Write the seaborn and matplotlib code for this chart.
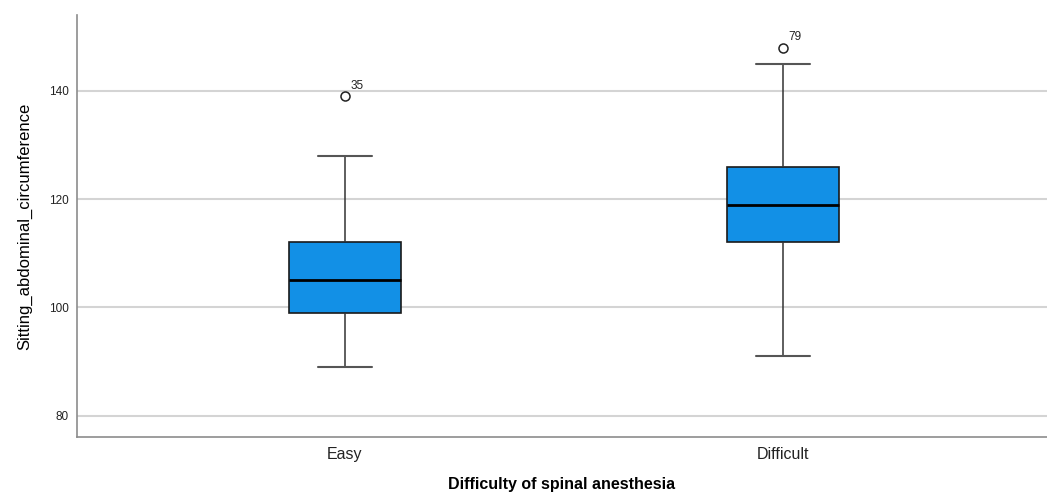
import numpy as np
import pandas as pd
import matplotlib
matplotlib.use("Agg")
import matplotlib.pyplot as plt
import seaborn as sns

# Five-number summaries per group, plus the single outlier and its case id
groups = ["Easy", "Difficult"]
whisker_low = [89, 91]
q1 = [99, 112]
median = [105, 119]
q3 = [112, 126]
whisker_high = [128, 145]
outliers = [139, 148]
outlier_ids = ["35", "79"]

# Build per-group samples whose quartiles (linear interpolation, n=9)
# reproduce the summaries exactly: Q1 at index 2, median at 4, Q3 at 6.
rows = []
for i, g in enumerate(groups):
    vals = [whisker_low[i], q1[i], q1[i], median[i], median[i],
            q3[i], q3[i], whisker_high[i], outliers[i]]
    rows += [(g, v) for v in vals]
df = pd.DataFrame(rows, columns=["Difficulty of spinal anesthesia",
                                 "Sitting_abdominal_circumference"])

sns.set_theme(style="white")
plt.rcParams["font.family"] = ["Liberation Sans", "DejaVu Sans"]

fig = plt.figure(figsize=(10.47, 4.92), dpi=100)
ax = fig.add_axes([0.0735, 0.112, 0.9265, 0.8575])

ax.yaxis.grid(True, color="#d4d4d4", linewidth=1.5, zorder=0)
ax.set_axisbelow(True)

sns.boxplot(
    data=df, x="Difficulty of spinal anesthesia",
    y="Sitting_abdominal_circumference", order=groups,
    color="#1290E6", saturation=1, width=0.256, whis=1.5, ax=ax,
    boxprops=dict(edgecolor="#1a1a1a", linewidth=1.2),
    medianprops=dict(color="black", linewidth=2),
    whiskerprops=dict(color="#333333", linewidth=1.1),
    capprops=dict(color="#555555", linewidth=1.5),
    capwidths=0.123,
    flierprops=dict(marker="o", markersize=6.5, markerfacecolor="white",
                    markeredgecolor="#222222", markeredgewidth=1.1),
)

for i, (val, lab) in enumerate(zip(outliers, outlier_ids)):
    ax.annotate(lab, xy=(i, val), xytext=(4, 3), textcoords="offset points",
                fontsize=8.5, color="#222222", ha="left", va="bottom")

ax.set_xlim(-0.612, 1.603)
ax.set_ylim(76.1, 154.0)
ax.set_yticks([80, 100, 120, 140])

for side in ["top", "right"]:
    ax.spines[side].set_visible(False)
for side in ["left", "bottom"]:
    ax.spines[side].set_color("#8c8c8c")
    ax.spines[side].set_linewidth(1.2)

ax.tick_params(axis="both", length=0)
ax.tick_params(axis="y", labelsize=8.5, pad=6, colors="#222222")
ax.tick_params(axis="x", labelsize=11.5, pad=7, colors="#222222")

ax.set_ylabel("Sitting_abdominal_circumference", fontsize=12,
              color="black", labelpad=12)
ax.set_xlabel("Difficulty of spinal anesthesia", fontsize=11.5,
              fontweight="bold", color="black", labelpad=11)

fig.savefig("out.png", dpi=100)
